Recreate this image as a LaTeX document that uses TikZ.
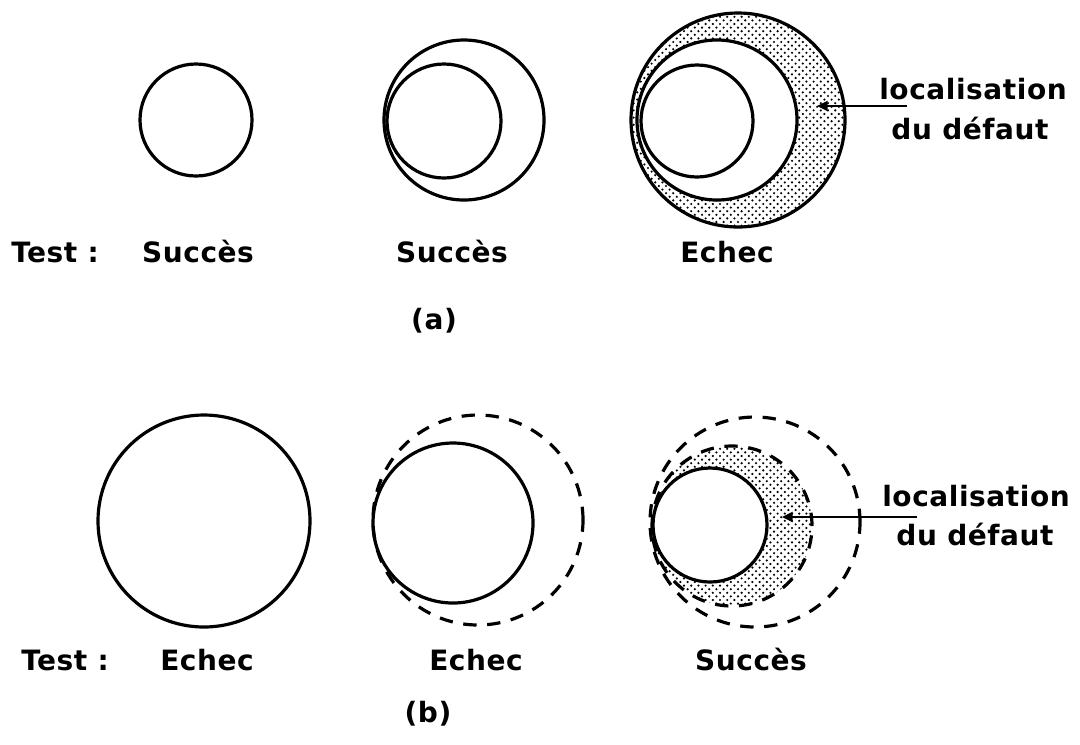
\documentclass[tikz,border=0pt]{standalone}
\usepackage{fontspec}
\setmainfont{DejaVu Sans}[LetterSpace=2]
\usetikzlibrary{patterns,arrows.meta}
\pgfdeclarepatternformonly{stipdots}{\pgfqpoint{-1.2pt}{-1.2pt}}{\pgfqpoint{4.2pt}{4.2pt}}{\pgfqpoint{5.4pt}{5.4pt}}{%
  \pgfpathcircle{\pgfqpoint{0pt}{0pt}}{0.9pt}%
  \pgfpathcircle{\pgfqpoint{2.7pt}{2.7pt}}{0.9pt}%
  \pgfusepath{fill}}
\begin{document}
\begin{tikzpicture}[x=0.75pt,y=-0.75pt,
  ring/.style={circle,draw,line width=2.4pt,inner sep=0pt},
  dashring/.style={circle,draw,line width=2.4pt,inner sep=0pt,dash pattern=on 10pt off 8pt},
  stip/.style={pattern=stipdots},
  lbl/.style={font=\bfseries\fontsize{21}{25}\selectfont,inner sep=0pt,anchor=base},
  captxt/.style={font=\bfseries\fontsize{21}{25}\selectfont,inner sep=0pt},
  ptr/.style={line width=1.5pt,-{Triangle[length=8pt,width=7.5pt]}}]
\useasboundingbox (0,0) rectangle (1080,744);
% ---------- (a) ----------
\node[ring,minimum size=84pt] (a1) at (196,120) {};
\node[ring,minimum size=120pt] (a2o) at (464,120) {};
\node[ring,minimum size=85.5pt] (a2i) at (444,121) {};
\node[ring,stip,minimum size=160.5pt] (a3o) at (738,120) {};
\node[ring,fill=white,minimum size=120pt] (a3m) at (717,120) {};
\node[ring,minimum size=84pt] (a3i) at (697,121) {};
\coordinate (a3p) at (907,106);
\coordinate (a3t) at (817,106);
\draw[ptr] (a3p) -- (a3t);
\node[lbl] (loca) at (973,99) {localisation};
\node[lbl] (defa) at (970,139) {du défaut};
\node[lbl,anchor=base west] (testa) at (11,262) {Test :};
\node[lbl] (sa1) at (198,262) {Succès};
\node[lbl] (sa2) at (452,262) {Succès};
\node[lbl] (ea3) at (727,262) {Echec};
\node[captxt] (capa) at (434,321) {(a)};
% ---------- (b) ----------
\node[ring,minimum size=159pt] (b1) at (204,521) {};
\node[dashring,minimum size=157.5pt] (b2d) at (478,520) {};
\node[ring,minimum size=120pt] (b2s) at (453,523) {};
\node[dashring,minimum size=157.5pt] (b3o) at (755,522) {};
\node[dashring,stip,minimum size=120pt] (b3m) at (732,526) {};
\node[ring,fill=white,minimum size=85.5pt] (b3i) at (710,525) {};
\coordinate (b3p) at (917,517);
\coordinate (b3t) at (782,517);
\draw[ptr] (b3p) -- (b3t);
\node[lbl] (locb) at (976,506) {localisation};
\node[lbl] (defb) at (975,545) {du défaut};
\node[lbl,anchor=base west] (testb) at (21,670) {Test :};
\node[lbl] (eb1) at (207,670) {Echec};
\node[lbl] (eb2) at (476,670) {Echec};
\node[lbl] (sb3) at (751,670) {Succès};
\node[captxt] (capb) at (428,714) {(b)};
\end{tikzpicture}
\end{document}
